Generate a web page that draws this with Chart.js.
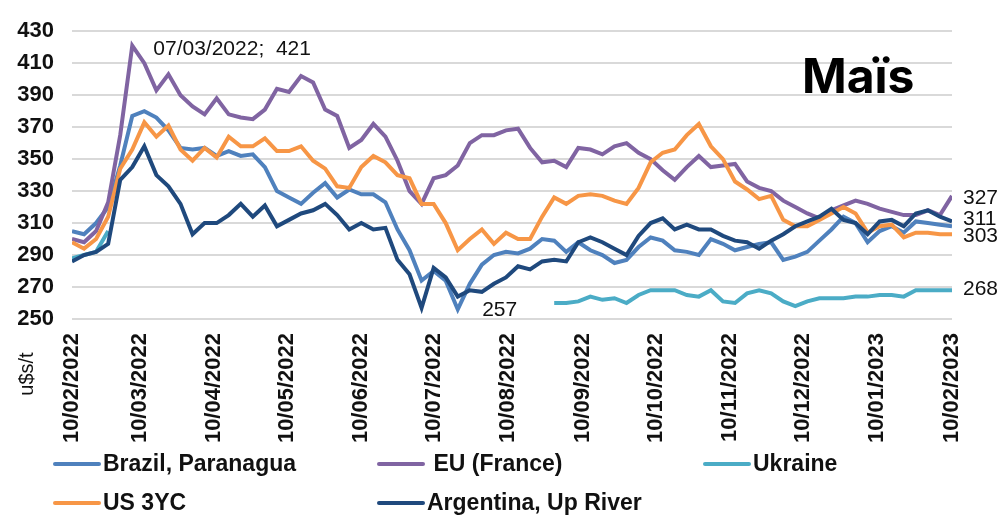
<!DOCTYPE html>
<html>
<head>
<meta charset="utf-8">
<script src="https://cdn.jsdelivr.net/npm/chart.js@4"></script>
<style>
  body { margin: 0; background: #fff; }
  #wrap { position: relative; width: 1004px; height: 516px; }
</style>
</head>
<body>
<div id="wrap"><canvas id="myChart" width="1004" height="516"></canvas></div>
<script>
// days counted from 10/02/2022
const days = [0, 5, 10, 15, 20, 25, 30, 35, 40, 45, 50, 55, 60, 65, 70, 75, 80, 85, 90, 95,
  100, 105, 110, 115, 120, 125, 130, 135, 140, 145, 150, 155, 160, 165, 170, 175, 180, 185, 190, 195,
  200, 205, 210, 215, 220, 225, 230, 235, 240, 245, 250, 255, 260, 265, 270, 275, 280, 285, 290, 295,
  300, 305, 310, 315, 320, 325, 330, 335, 340, 345, 350, 355, 360, 365];

const monthTicks = [0, 28, 59, 89, 120, 150, 181, 212, 242, 273, 303, 334, 365];
const monthLabels = ["10/02/2022", "10/03/2022", "10/04/2022", "10/05/2022", "10/06/2022", "10/07/2022",
  "10/08/2022", "10/09/2022", "10/10/2022", "10/11/2022", "10/12/2022", "10/01/2023", "10/02/2023"];

const brazil = [305, 303, 310, 320, 346, 377, 380, 376, 368, 357, 356, 357, 352, 355, 352, 353, 345, 330, 326, 322,
  329, 335, 326, 331, 328, 328, 323, 306, 293, 274, 280, 274, 256, 272, 284, 290, 292, 291, 294, 300,
  299, 292, 298, 293, 290, 285, 287, 295, 301, 299, 293, 292, 290, 300, 297, 293, 295, 297, 298, 287,
  289, 292, 299, 306, 314, 310, 298, 305, 308, 304, 311, 310, 309, 308];

const eu = [300, 298, 305, 323, 365, 421, 410, 393, 403, 390, 383, 378, 388, 378, 376, 375, 381, 394, 392, 402,
  398, 381, 377, 357, 362, 372, 364, 349, 330, 322, 338, 340, 346, 360, 365, 365, 368, 369, 357, 348,
  349, 345, 357, 356, 353, 358, 360, 354, 350, 343, 337, 345, 352, 345, 346, 347, 336, 332, 330, 324,
  320, 316, 313, 318, 321, 324, 322, 319, 317, 315, 315, 318, 315, 327];

const ukraine = [288, 290, 292, 305, null, null, null, null, null, null, null, null, null, null, null, null, null, null, null, null,
  null, null, null, null, null, null, null, null, null, null, null, null, null, null, null, null, null, null, null, null,
  260, 260, 261, 264, 262, 263, 260, 265, 268, 268, 268, 265, 264, 268, 261, 260, 266, 268, 266, 261,
  258, 261, 263, 263, 263, 264, 264, 265, 265, 264, 268, 268, 268, 268];

const us3yc = [298, 294, 300, 314, 344, 356, 373, 364, 371, 356, 349, 357, 351, 364, 358, 358, 363, 355, 355, 358,
  349, 344, 333, 332, 345, 352, 348, 340, 338, 322, 322, 310, 293, 300, 306, 297, 304, 300, 300, 314,
  326, 322, 327, 328, 327, 324, 322, 332, 348, 354, 356, 365, 372, 358, 350, 336, 331, 325, 327, 312,
  308, 308, 312, 316, 320, 316, 304, 308, 309, 301, 304, 304, 303, 303];

const argentina = [286, 290, 292, 297, 337, 345, 358, 340, 333, 322, 303, 310, 310, 315, 322, 314, 321, 308, 312, 316,
  318, 322, 315, 306, 310, 306, 307, 287, 278, 257, 282, 276, 264, 268, 267, 272, 276, 283, 281, 286,
  287, 286, 298, 301, 298, 294, 290, 302, 310, 313, 306, 309, 306, 306, 302, 299, 298, 294, 299, 303,
  308, 311, 314, 319, 312, 310, 303, 311, 312, 308, 316, 318, 314, 311];

const seriesNames = ["Brazil, Paranagua", "EU (France)", "Ukraine", "US 3YC", "Argentina, Up River"];
const seriesColors = ["#4f81bd", "#8064a2", "#4bacc6", "#f79646", "#1f497d"];
const seriesValues = [brazil, eu, ukraine, us3yc, argentina];

const txt = "#111111";
const sans = '"Liberation Sans", Arial, sans-serif';
const narrow = '"Liberation Sans Narrow", "Arial Narrow", "Liberation Sans", sans-serif';

const drawOrder = [4, 3, 2, 1, 0];
const datasets = seriesNames.map((name, i) => ({
  label: name,
  data: days.map((d, k) => ({ x: d, y: seriesValues[i][k] })),
  borderColor: seriesColors[i],
  backgroundColor: seriesColors[i],
  borderWidth: 4,
  pointRadius: 0,
  tension: 0,
  spanGaps: false,
  order: drawOrder[i]
}));

const textPlugin = {
  id: "texts",
  afterDraw(chart) {
    const ctx = chart.ctx;
    const x = chart.scales.x, y = chart.scales.y;
    ctx.save();
    ctx.fillStyle = txt;
    ctx.textBaseline = "middle";
    ctx.font = "21px " + sans;
    ctx.fillText("07/03/2022;  421", x.getPixelForValue(25) + 21, y.getPixelForValue(421) + 4);
    ctx.fillText("257", x.getPixelForValue(161) + 22, y.getPixelForValue(257) + 2);

    // end-of-series values
    const ends = [[eu, 2], [argentina, -2], [us3yc, 2], [ukraine, -1]];
    ends.forEach(([arr, off]) => {
      const v = arr[arr.length - 1];
      ctx.fillText(String(v), x.getPixelForValue(365) + 11, y.getPixelForValue(v) + off);
    });

    // axis unit
    ctx.save();
    ctx.translate(27, 374);
    ctx.rotate(-Math.PI / 2);
    ctx.textAlign = "center";
    ctx.font = "20px " + sans;
    ctx.fillText("u$s/t", 0, 0);
    ctx.restore();

    // title
    ctx.textBaseline = "alphabetic";
    ctx.font = "700 48px Inter, sans-serif";
    ctx.fillStyle = "#000";
    ctx.fillText("Maïs", 802, 93);

    // legend
    const legendPos = [[53, 464], [377, 464], [703, 464], [53, 503], [377, 503]];
    ctx.textBaseline = "middle";
    ctx.font = "bold 23px " + sans;
    seriesNames.forEach((name, i) => {
      const [lx, ly] = legendPos[i];
      ctx.strokeStyle = seriesColors[i];
      ctx.lineWidth = 4;
      ctx.lineCap = "round";
      ctx.beginPath();
      ctx.moveTo(lx + 2, ly);
      ctx.lineTo(lx + 46, ly);
      ctx.stroke();
      ctx.fillStyle = txt;
      ctx.fillText(i === 1 ? " " + name : name, lx + 50, ly + 1);
    });
    ctx.restore();
  }
};

const config = {
  type: "line",
  data: { datasets: datasets },
  options: {
    responsive: false,
    animation: false,
    layout: { padding: { top: 23, right: 52, left: 0, bottom: 0 } },
    plugins: { legend: { display: false }, tooltip: { enabled: false } },
    scales: {
      x: {
        type: "linear",
        min: 0,
        max: 365,
        afterBuildTicks: (s) => { s.ticks = monthTicks.map(v => ({ value: v })); },
        afterFit: (s) => { s.height = 197; },
        grid: { display: false, drawTicks: false },
        border: { display: false },
        ticks: {
          autoSkip: false,
          minRotation: 90,
          maxRotation: 90,
          padding: 14,
          color: txt,
          font: { family: narrow, size: 22, weight: "bold" },
          callback: (v) => monthLabels[monthTicks.indexOf(v)]
        }
      },
      y: {
        min: 250,
        max: 430,
        afterFit: (s) => { s.width = 72; },
        grid: { color: "#d9d9d9", lineWidth: 2, drawTicks: false },
        border: { display: false },
        ticks: {
          stepSize: 20,
          padding: 18,
          color: txt,
          font: { family: sans, size: 22, weight: "bold" }
        }
      }
    }
  },
  plugins: [textPlugin]
};

var myChart = new Chart(document.getElementById("myChart"), config);
</script>
</body>
</html>
